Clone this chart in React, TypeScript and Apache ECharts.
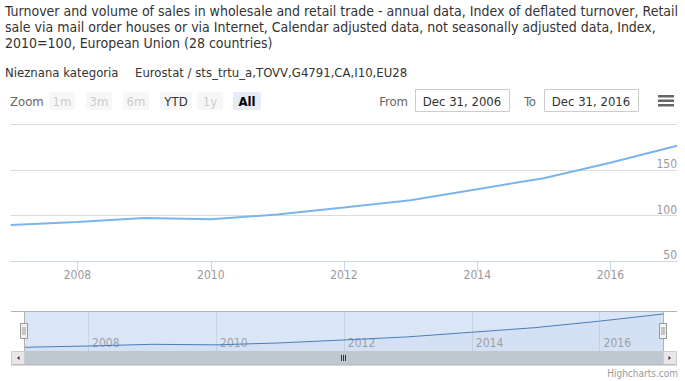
import React, { useEffect, useRef } from 'react';
import * as echarts from 'echarts';

const titleLines = [
  'Turnover and volume of sales in wholesale and retail trade - annual data, Index of deflated turnover, Retail',
  'sale via mail order houses or via Internet, Calendar adjusted data, not seasonally adjusted data, Index,',
  '2010=100, European Union (28 countries)',
];
const categoryLabel = 'Nieznana kategoria';
const sourceLabel = 'Eurostat / sts_trtu_a,TOVV,G4791,CA,I10,EU28';

const dates = [
  '2006-12-31', '2007-12-31', '2008-12-31', '2009-12-31', '2010-12-31', '2011-12-31',
  '2012-12-31', '2013-12-31', '2014-12-31', '2015-12-31', '2016-12-31',
];
const values = [89.7, 93.0, 97.4, 96.0, 101.0, 108.7, 116.7, 128.8, 140.8, 157.6, 176.3];

const xTickYears = [2008, 2010, 2012, 2014, 2016];
const yMin = 50;
const yMax = 200;
const yStep = 50;
const navMin = 80;
const navMax = 184;

const rangeButtons = ['1m', '3m', '6m', 'YTD', '1y', 'All'];
const rangeStates = ['disabled', 'disabled', 'disabled', 'normal', 'disabled', 'selected'];
const zoomLabel = 'Zoom';
const fromLabel = 'From';
const toLabel = 'To';
const fromValue = 'Dec 31, 2006';
const toValue = 'Dec 31, 2016';
const creditText = 'Highcharts.com';

const FONT = "'Liberation Sans Narrow', 'DejaVu Sans Condensed', 'Open Sans', sans-serif";

const ts = (d: string) => Date.parse(d + 'T00:00:00Z');
const xMin = ts(dates[0]);
const xMax = ts(dates[dates.length - 1]);
const tickTimes = xTickYears.map((y) => Date.UTC(y, 0, 1));
const seriesData = dates.map((d, i) => [ts(d), values[i]]);
const yearFmt = (v: number) => String(new Date(v).getUTCFullYear());

function buildGraphics() {
  const g: any[] = [];
  g.push({ type: 'text', style: { text: categoryLabel, x: 5, y: 72, fill: '#333', font: `13px ${FONT}`, textVerticalAlign: 'middle' } });
  g.push({ type: 'text', style: { text: sourceLabel, x: 135, y: 72, fill: '#333', font: `13px ${FONT}`, textVerticalAlign: 'middle' } });
  g.push({ type: 'text', style: { text: zoomLabel, x: 10, y: 101, fill: '#666', font: `13px ${FONT}`, textVerticalAlign: 'middle' } });
  const bx = [49, 86, 123, 160, 197, 233];
  const bw = [26, 26, 26, 32, 26, 28];
  rangeButtons.forEach((label, i) => {
    const st = rangeStates[i];
    g.push({
      type: 'rect',
      shape: { x: bx[i], y: 92, width: bw[i], height: 18, r: 2 },
      style: { fill: st === 'selected' ? '#e6ebf5' : '#f7f7f7' },
    });
    g.push({
      type: 'text',
      style: {
        text: label,
        x: bx[i] + bw[i] / 2,
        y: 101,
        fill: st === 'disabled' ? '#cccccc' : st === 'selected' ? '#000' : '#333',
        font: `${st === 'selected' ? 'bold ' : ''}13px ${FONT}`,
        textAlign: 'center',
        textVerticalAlign: 'middle',
      },
    });
  });
  g.push({ type: 'text', style: { text: fromLabel, x: 408, y: 101, fill: '#666', font: `13px ${FONT}`, textAlign: 'right', textVerticalAlign: 'middle' } });
  g.push({ type: 'rect', shape: { x: 415.5, y: 89.5, width: 94, height: 22 }, style: { fill: '#fff', stroke: '#cccccc', lineWidth: 1 } });
  g.push({ type: 'text', style: { text: fromValue, x: 462, y: 101, fill: '#333', font: `13px ${FONT}`, textAlign: 'center', textVerticalAlign: 'middle' } });
  g.push({ type: 'text', style: { text: toLabel, x: 536, y: 101, fill: '#666', font: `13px ${FONT}`, textAlign: 'right', textVerticalAlign: 'middle' } });
  g.push({ type: 'rect', shape: { x: 544.5, y: 89.5, width: 94, height: 22 }, style: { fill: '#fff', stroke: '#cccccc', lineWidth: 1 } });
  g.push({ type: 'text', style: { text: toValue, x: 591, y: 101, fill: '#333', font: `13px ${FONT}`, textAlign: 'center', textVerticalAlign: 'middle' } });
  [95, 99.5, 104].forEach((y) => {
    g.push({ type: 'rect', shape: { x: 658, y, width: 16, height: 2.5 }, style: { fill: '#666' } });
  });
  g.push({ type: 'line', shape: { x1: 11, y1: 311.5, x2: 677, y2: 311.5 }, style: { stroke: '#b3b3b3', lineWidth: 1 }, z: 10 });
  g.push({ type: 'line', shape: { x1: 24.5, y1: 311, x2: 24.5, y2: 351 }, style: { stroke: '#b3b3b3', lineWidth: 1 }, z: 10 });
  g.push({ type: 'line', shape: { x1: 663.5, y1: 311, x2: 663.5, y2: 351 }, style: { stroke: '#b3b3b3', lineWidth: 1 }, z: 10 });
  g.push({ type: 'rect', shape: { x: 24, y: 351, width: 639, height: 14 }, style: { fill: '#bfc8d1' }, z: 10 });
  g.push({ type: 'rect', shape: { x: 11.5, y: 351.5, width: 13, height: 13 }, style: { fill: '#ebe7e8', stroke: '#cccccc', lineWidth: 1 }, z: 10 });
  g.push({ type: 'rect', shape: { x: 663.5, y: 351.5, width: 13, height: 13 }, style: { fill: '#ebe7e8', stroke: '#cccccc', lineWidth: 1 }, z: 10 });
  g.push({ type: 'line', shape: { x1: 11, y1: 365, x2: 677, y2: 365 }, style: { stroke: '#b3b3b3', lineWidth: 1 }, z: 10 });
  g.push({ type: 'polygon', shape: { points: [[19.5, 356], [19.5, 360], [17, 358]] }, style: { fill: '#333' }, z: 11 });
  g.push({ type: 'polygon', shape: { points: [[668.5, 356], [668.5, 360], [671, 358]] }, style: { fill: '#333' }, z: 11 });
  [341.5, 343.5, 345.5].forEach((x) => {
    g.push({ type: 'line', shape: { x1: x, y1: 355, x2: x, y2: 361 }, style: { stroke: '#333', lineWidth: 1 }, z: 11 });
  });
  [24, 663].forEach((cx) => {
    g.push({ type: 'rect', shape: { x: cx - 3.5, y: 323.5, width: 7, height: 15 }, style: { fill: '#f2f2f2', stroke: '#999', lineWidth: 1 }, z: 12 });
    [cx - 1, cx + 1].forEach((lx) => {
      g.push({ type: 'line', shape: { x1: lx, y1: 327, x2: lx, y2: 335 }, style: { stroke: '#999', lineWidth: 1 }, z: 13 });
    });
  });
  g.push({ type: 'text', style: { text: creditText, x: 678, y: 373, fill: '#999', font: `10px ${FONT}`, textAlign: 'right', textVerticalAlign: 'middle' } });
  return g;
}

export default function App() {
  const ref = useRef<HTMLDivElement>(null);
  useEffect(() => {
    if (!ref.current) return;
    const chart = echarts.init(ref.current, undefined, { renderer: 'svg' });
    chart.setOption({
      animation: false,
      backgroundColor: '#fff',
      title: {
        text: titleLines.join('\n'),
        left: 5,
        top: 3,
        padding: 0,
        textStyle: { fontFamily: FONT, fontSize: 14, fontWeight: 'normal', color: '#333', lineHeight: 16 },
      },
      grid: [
        { left: 10.7, right: 8, top: 124, height: 137.3, containLabel: false },
        { left: 24, right: 21.5, top: 311, height: 40, show: true, backgroundColor: '#dae6f6', borderWidth: 0 },
      ],
      xAxis: [
        {
          type: 'value',
          gridIndex: 0,
          min: xMin,
          max: xMax,
          axisLine: { show: true, lineStyle: { color: '#ccd6eb', width: 1 } },
          axisTick: { show: true, customValues: tickTimes, length: 10, lineStyle: { color: '#ccd6eb' } },
          axisLabel: {
            customValues: tickTimes,
            formatter: yearFmt,
            color: '#999',
            fontFamily: FONT,
            fontSize: 12,
            margin: 8,
          },
          splitLine: { show: false },
        },
        {
          type: 'value',
          gridIndex: 1,
          min: xMin,
          max: xMax,
          axisLine: { show: false },
          axisTick: { show: false, customValues: tickTimes },
          axisLabel: {
            customValues: tickTimes,
            formatter: yearFmt,
            inside: true,
            align: 'left',
            padding: [0, 0, 0, 4],
            color: '#a3a3a3',
            fontFamily: FONT,
            fontSize: 12,
            margin: 2,
          },
          splitLine: { show: true, lineStyle: { color: '#c6d4e8', width: 1 } },
        },
      ],
      yAxis: [
        {
          type: 'value',
          gridIndex: 0,
          position: 'right',
          min: yMin,
          max: yMax,
          interval: yStep,
          axisLine: { show: false },
          axisTick: { show: false },
          axisLabel: {
            inside: true,
            showMaxLabel: false,
            verticalAlign: 'bottom',
            margin: 0,
            padding: [0, 0, 0, 0],
            color: '#999',
            fontFamily: FONT,
            fontSize: 12,
          },
          splitLine: { show: true, lineStyle: { color: '#dcdcdc', width: 1 } },
        },
        {
          type: 'value',
          gridIndex: 1,
          min: navMin,
          max: navMax,
          show: false,
          splitLine: { show: false },
        },
      ],
      series: [
        {
          type: 'line',
          xAxisIndex: 0,
          yAxisIndex: 0,
          data: seriesData,
          showSymbol: false,
          lineStyle: { color: '#7cb5ec', width: 2 },
          itemStyle: { color: '#7cb5ec' },
          z: 5,
        },
        {
          type: 'line',
          xAxisIndex: 1,
          yAxisIndex: 1,
          data: seriesData,
          showSymbol: false,
          lineStyle: { color: '#4a7dbd', width: 1 },
          areaStyle: { color: 'rgba(51,92,173,0.05)' },
          z: 5,
        },
      ],
      graphic: buildGraphics(),
    });
    return () => chart.dispose();
  }, []);
  return <div ref={ref} style={{ position: 'fixed', left: 0, top: 0, width: 685, height: 381 }} />;
}
